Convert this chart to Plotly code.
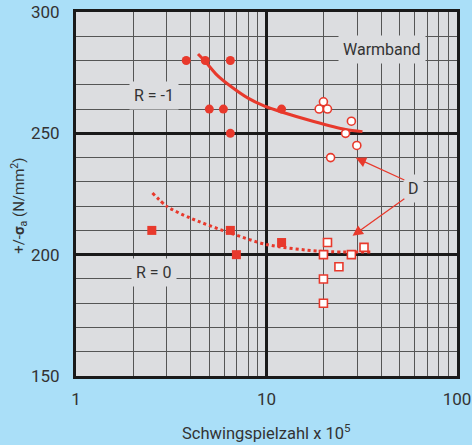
import math
import plotly.graph_objects as go

# ---- data ----
r1_filled_x = [3.79, 4.77, 6.46, 5.01, 5.94, 6.46, 12.0]
r1_filled_y = [280, 280, 280, 260, 260, 250, 260]
r1_open_x = [19.9, 18.9, 20.9, 27.9, 26.0, 29.8, 21.7]
r1_open_y = [263, 260, 260, 255, 250, 245, 240]
r1_curve_x = [4.37, 4.77, 5.5, 6.46, 8.0, 9.7, 12.0, 17.7, 26.0, 31.9]
r1_curve_y = [282.7, 279.6, 274.0, 269.5, 264.5, 261.3, 258.8, 254.9, 251.6, 250.7]

r0_filled_x = [2.5, 6.46, 6.95, 12.0]
r0_filled_y = [210, 210, 200, 205]
r0_open_x = [20.9, 19.9, 27.9, 32.5, 24.0, 19.9, 19.9]
r0_open_y = [205, 200, 200, 203, 195, 190, 180]
r0_curve_x = [2.52, 3.0, 3.98, 6.46, 10.1, 19.2, 36.0]
r0_curve_y = [225.4, 219.9, 215.1, 208.9, 204.1, 201.4, 201.1]

x_ticks = [1, 10, 100]
x_tick_labels = ["1", "10", "100"]
y_ticks = [150, 200, 250, 300]

labels = ["R = -1", "R = 0", "Warmband", "D"]
label_x = [2.57, 2.56, 40.3, 59.2]
label_y = [265.4, 192.7, 284.6, 227.4]

arrow_tip_x = [29.4, 28.3]
arrow_tip_y = [239.9, 207.8]
arrow_tail_x = [53.9, 53.9]
arrow_tail_y = [230.5, 223.5]

RED = "#e8392c"
BG = "#aadff8"
PLOT_BG = "#dcdde0"
TXT = "#333333"
FONT = "Roboto"

fig = go.Figure()

fig.add_trace(go.Scatter(x=r1_curve_x, y=r1_curve_y, mode="lines",
                         line=dict(color=RED, width=3, shape="spline", smoothing=0.8),
                         hoverinfo="skip", showlegend=False))
fig.add_trace(go.Scatter(x=r0_curve_x, y=r0_curve_y, mode="lines",
                         line=dict(color=RED, width=3, shape="spline", smoothing=0.8, dash="dot"),
                         hoverinfo="skip", showlegend=False))
fig.add_trace(go.Scatter(x=r1_filled_x, y=r1_filled_y, mode="markers",
                         marker=dict(symbol="circle", size=9, color=RED, line=dict(width=0)),
                         showlegend=False))
fig.add_trace(go.Scatter(x=r1_open_x, y=r1_open_y, mode="markers",
                         marker=dict(symbol="circle", size=8, color="white",
                                     line=dict(width=1.6, color=RED)),
                         showlegend=False))
fig.add_trace(go.Scatter(x=r0_filled_x, y=r0_filled_y, mode="markers",
                         marker=dict(symbol="square", size=9, color=RED, line=dict(width=0)),
                         showlegend=False))
fig.add_trace(go.Scatter(x=r0_open_x, y=r0_open_y, mode="markers",
                         marker=dict(symbol="square", size=8, color="white",
                                     line=dict(width=1.6, color=RED)),
                         showlegend=False))

annotations = []
for t, lx, ly in zip(labels, label_x, label_y):
    annotations.append(dict(x=math.log10(lx), y=ly, xref="x", yref="y", text=t,
                            showarrow=False, bgcolor=PLOT_BG, borderpad=4,
                            font=dict(family=FONT, size=16, color=TXT)))
for tx, ty, ax, ay in zip(arrow_tip_x, arrow_tip_y, arrow_tail_x, arrow_tail_y):
    annotations.append(dict(x=math.log10(tx), y=ty, xref="x", yref="y",
                            ax=math.log10(ax), ay=ay, axref="x", ayref="y",
                            text="", showarrow=True, arrowhead=2, arrowsize=1.6,
                            arrowwidth=1.3, arrowcolor=RED, standoff=0))
annotations.append(dict(x=0.5, y=-0.154, xref="paper", yref="paper",
                        xanchor="center", yanchor="middle",
                        text="Schwingspielzahl x 10<sup>5</sup>", showarrow=False,
                        font=dict(family=FONT, size=16.5, color=TXT)))
annotations.append(dict(x=-0.15, y=0.467, xref="paper", yref="paper", textangle=-90,
                        xanchor="center", yanchor="middle",
                        text="+/-<b>σ</b><sub>a</sub> (N/mm<sup>2</sup>)", showarrow=False,
                        font=dict(family=FONT, size=15, color=TXT)))

fig.update_layout(
    width=472, height=445,
    margin=dict(l=76, r=15, t=12, b=69),
    paper_bgcolor=BG, plot_bgcolor=PLOT_BG,
    annotations=annotations,
    xaxis=dict(type="log", range=[0, 2], tickvals=x_ticks, ticktext=x_tick_labels,
               automargin=False,
               showgrid=True, gridcolor="#1a1a1a", gridwidth=2.5,
               minor=dict(dtick="D1", showgrid=True, gridcolor="#555555", gridwidth=1.3),
               showline=True, linecolor="#1a1a1a", linewidth=3, mirror=True,
               ticks="outside", ticklen=6, tickcolor=BG,
               tickfont=dict(family=FONT, size=17, color=TXT), zeroline=False),
    yaxis=dict(range=[150, 300], tickvals=y_ticks, automargin=False,
               showgrid=True, gridcolor="#1a1a1a", gridwidth=2.5,
               minor=dict(dtick=10, showgrid=True, gridcolor="#555555", gridwidth=1.3),
               showline=True, linecolor="#1a1a1a", linewidth=3, mirror=True,
               ticks="outside", ticklen=10, tickcolor=BG,
               tickfont=dict(family=FONT, size=17, color=TXT), zeroline=False),
)

fig.write_html("out.html")
